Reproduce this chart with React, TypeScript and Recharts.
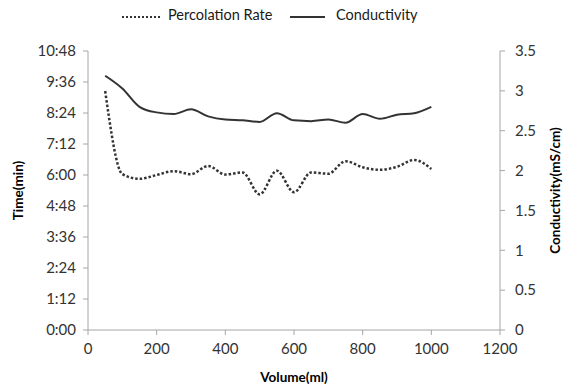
import React from "react";
import { LineChart, Line, XAxis, YAxis, Legend } from "recharts";

const volumes = [50, 100, 150, 200, 250, 300, 350, 400, 450, 500, 550, 600, 650, 700, 750, 800, 850, 900, 950, 1000];
// percolation time in minutes (shown as h:mm like the original)
const percolation = [555, 362, 351, 360, 369, 362, 381, 361, 366, 315, 370, 320, 366, 363, 392, 378, 372, 379, 395, 374];
const conductivity = [3.19, 3.03, 2.8, 2.73, 2.71, 2.77, 2.68, 2.64, 2.63, 2.61, 2.72, 2.63, 2.62, 2.64, 2.6, 2.71, 2.65, 2.7, 2.72, 2.8];

const xTicks = [0, 200, 400, 600, 800, 1000, 1200];
const timeTicks = [0, 72, 144, 216, 288, 360, 432, 504, 576, 648];
const condTicks = [0, 0.5, 1, 1.5, 2, 2.5, 3, 3.5];

const data = volumes.map((v, i) => ({
  volume: v,
  percolation: percolation[i],
  conductivity: conductivity[i],
}));

const font = "Lato, 'Liberation Sans', sans-serif";
const axisColor = "#a6a6a6";
const tickStyle = { fill: "#333", fontSize: 15, fontFamily: font };
const titleStyle = { fill: "#000", fontSize: 13.5, fontWeight: 700, fontFamily: font, textAnchor: "middle" as const };

const fmtTime = (v: number) => {
  const h = Math.floor(v / 60);
  const m = Math.round(v % 60);
  return `${h}:${m < 10 ? "0" + m : m}`;
};

const LegendBox = () => (
  <div style={{ position: "relative", height: 22, fontFamily: font, fontSize: 14.5, color: "#1a1a1a" }}>
    <svg style={{ position: "absolute", left: 122, top: 10 }} width={40} height={4}>
      <line x1={0} y1={2} x2={38} y2={2} stroke="#333" strokeWidth={2} strokeDasharray="2 2" />
    </svg>
    <span style={{ position: "absolute", left: 168, top: 1 }}>Percolation Rate</span>
    <svg style={{ position: "absolute", left: 290, top: 10 }} width={36} height={4}>
      <line x1={0} y1={2} x2={35} y2={2} stroke="#333" strokeWidth={2} />
    </svg>
    <span style={{ position: "absolute", left: 336, top: 1 }}>Conductivity</span>
  </div>
);

export default function App() {
  return (
    <div style={{ position: "absolute", left: 0, top: 0, background: "#fff" }}>
      <LineChart width={563} height={386} data={data} margin={{ top: 51, right: 0, left: 0, bottom: 0 }}>
        <Legend
          layout="horizontal"
          verticalAlign="middle"
          align="center"
          content={<LegendBox />}
          wrapperStyle={{ top: 5, left: 0, width: 563 }}
        />
        <XAxis
          dataKey="volume"
          type="number"
          domain={[0, 1200]}
          ticks={xTicks}
          height={56}
          tickSize={5}
          tickMargin={8}
          stroke={axisColor}
          tick={tickStyle}
          label={{ value: "Volume(ml)", position: "insideBottom", offset: 4, style: titleStyle }}
        />
        <YAxis
          yAxisId="left"
          type="number"
          domain={[0, 648]}
          ticks={timeTicks}
          tickFormatter={fmtTime}
          width={88}
          tickSize={5}
          tickMargin={7}
          stroke={axisColor}
          tick={tickStyle}
          label={{ value: "Time(min)", angle: -90, position: "insideLeft", offset: 18, style: titleStyle }}
        />
        <YAxis
          yAxisId="right"
          orientation="right"
          type="number"
          domain={[0, 3.5]}
          ticks={condTicks}
          width={63}
          tickSize={5}
          tickMargin={10}
          stroke={axisColor}
          tick={tickStyle}
          label={{ value: "Conductivity(mS/cm)", angle: -90, position: "insideRight", offset: 8, style: titleStyle }}
        />
        <Line
          yAxisId="left"
          type="monotone"
          dataKey="percolation"
          stroke="#333"
          strokeWidth={2.5}
          strokeDasharray="2.5 2"
          dot={false}
          isAnimationActive={false}
        />
        <Line
          yAxisId="right"
          type="monotone"
          dataKey="conductivity"
          stroke="#333"
          strokeWidth={2}
          dot={false}
          isAnimationActive={false}
        />
      </LineChart>
    </div>
  );
}
